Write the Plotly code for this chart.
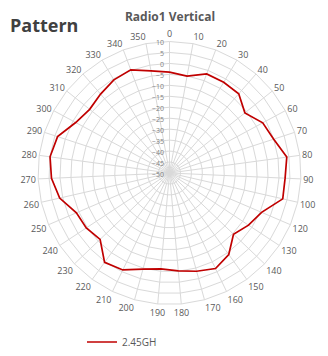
import plotly.graph_objects as go

categories = ["0", "10", "20", "30", "40", "50", "60", "70", "80", "90", "100",
              "120", "130", "140", "150", "160", "170", "180", "190", "200",
              "210", "220", "230", "240", "250", "260", "270", "280", "290",
              "300", "310", "320", "330", "340", "350"]
values_245 = [-4.0, -5.1, -1.7, -1.8, -2.0, -6.0, -1.7, 0.0, 4.0, 2.8, 3.0,
              -4.3, -6.8, -9.6, -4.0, -1.6, -3.5, -5.2, -6.1, -4.5,
              -0.9, 0.4, -6.2, -4.5, -3.8, 1.4, 3.9, 5.0, 3.7,
              -1.4, -3.4, -2.2, -0.5, 0.3, -2.6]
series_name = "2.45GH"
radial_ticks = list(range(-50, 11, 5))
title_text = "Radio1 Vertical"
side_text = "Pattern"

W, H = 328, 356
OFF = 8  # page body margin offset in the browser window
cx, cy, R = 169.5 - OFF, 173.0 - OFF, 131.5

fig = go.Figure()
fig.add_trace(go.Scatterpolar(
    r=values_245 + values_245[:1],
    theta=categories + categories[:1],
    mode="lines",
    name=series_name,
    line=dict(color="#C00000", width=1.7),
))

fig.update_layout(
    width=W, height=H,
    margin=dict(l=0, r=0, t=0, b=0, autoexpand=False),
    paper_bgcolor="white",
    plot_bgcolor="white",
    font=dict(family="Open Sans", color="#595959"),
    title=dict(text="<b>" + title_text + "</b>", x=(170 - OFF) / W, xanchor="center",
               y=1 - 9 / H, yanchor="middle", pad=dict(t=0, b=0),
               font=dict(size=12, color="#595959", family="Open Sans")),
    polar=dict(
        domain=dict(x=[(cx - R) / W, (cx + R) / W],
                    y=[(H - cy - R) / H, (H - cy + R) / H]),
        bgcolor="white",
        gridshape="linear",
        angularaxis=dict(
            type="category",
            categoryarray=categories,
            direction="clockwise",
            rotation=90,
            showline=True,
            linecolor="#d9d9d9",
            linewidth=1,
            gridcolor="#d9d9d9",
            gridwidth=1,
            ticks="",
            tickfont=dict(size=9, color="#595959", family="Open Sans"),
        ),
        radialaxis=dict(
            range=[-50, 10],
            tickvals=radial_ticks,
            angle=90,
            side="counterclockwise",
            showline=False,
            gridcolor="#d9d9d9",
            gridwidth=1,
            ticks="",
            tickfont=dict(size=7, color="#7f7f7f", family="Open Sans"),
        ),
    ),
    showlegend=True,
    legend=dict(x=(82 - OFF) / W, y=(H - (342 - OFF)) / H, xanchor="left", yanchor="middle",
                orientation="h", itemwidth=30, bgcolor="rgba(0,0,0,0)",
                font=dict(size=10, color="#595959", family="Open Sans")),
    annotations=[dict(text="<b>" + side_text + "</b>", x=0, y=1 - (25 - OFF) / H,
                      xref="paper", yref="paper", xanchor="left", yanchor="middle",
                      showarrow=False,
                      font=dict(size=18, color="#404040", family="Open Sans"))],
)

fig.write_html("out.html")
